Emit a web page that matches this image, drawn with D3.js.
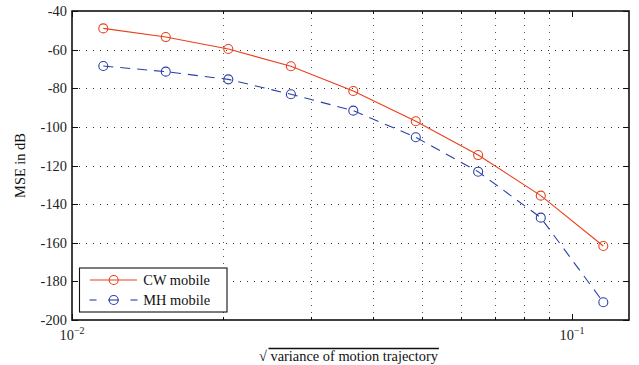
<!DOCTYPE html>
<html>
<head>
<meta charset="utf-8">
<script src="https://cdn.jsdelivr.net/npm/d3@7"></script>
<style>
  html, body { margin: 0; padding: 0; background: #fff; }
</style>
</head>
<body>
<svg id="chart" width="639" height="365"></svg>
<script>
// ---- data ----
const xValues = [0.01155, 0.0154, 0.02054, 0.0274, 0.03652, 0.0487, 0.0649, 0.0866, 0.1155];
const cwMobile = [-49, -53.5, -59.7, -68.6, -81.4, -97.1, -114.6, -135.6, -161.7];
const mhMobile = [-68.5, -71.4, -75.4, -83.1, -91.6, -105.4, -123.2, -147, -190.8];
const yTicks = [-200, -180, -160, -140, -120, -100, -80, -60, -40];
const xMajorTicks = [0.01, 0.1];
const xMajorExp = ["−2", "−1"];
const xMinorTicks = [0.02, 0.03, 0.04, 0.05, 0.06, 0.07, 0.08, 0.09];
const seriesNames = ["CW mobile", "MH mobile"];
const seriesColors = ["#e8401c", "#2a3fa8"];
const xLabel = "variance of motion trajectory";
const yLabel = "MSE in dB";

// ---- layout ----
const L = 72, R = 629, T = 11, B = 320;
const fs = 14.4;
const FONT = "'Liberation Serif', 'Times New Roman', Times, 'DejaVu Serif', serif";
const svg = d3.select("#chart").attr("font-family", FONT);
const x = d3.scaleLog().domain([0.01, 0.13]).range([L, R]);
const y = d3.scaleLinear().domain([-200, -40]).range([B, T]);

// grid
const grid = svg.append("g").attr("stroke", "#333").attr("stroke-width", 1)
  .attr("stroke-dasharray", "1,6");
grid.selectAll("line.gx").data(xMinorTicks).join("line")
  .attr("x1", d => Math.round(x(d)) + 0.5).attr("x2", d => Math.round(x(d)) + 0.5)
  .attr("y1", T).attr("y2", B).attr("stroke", "#555");
grid.selectAll("line.gy").data(yTicks.slice(1, -1)).join("line")
  .attr("x1", L).attr("x2", R)
  .attr("y1", d => Math.round(y(d)) + 0.5).attr("y2", d => Math.round(y(d)) + 0.5);

// ticks (inward, both sides)
const ticks = svg.append("g").attr("stroke", "#111").attr("stroke-width", 1);
xMajorTicks.forEach(t => {
  const xp = Math.round(x(t)) + 0.5;
  ticks.append("line").attr("x1", xp).attr("x2", xp).attr("y1", B).attr("y2", B - 6);
  ticks.append("line").attr("x1", xp).attr("x2", xp).attr("y1", T).attr("y2", T + 6);
});
xMinorTicks.forEach(t => {
  const xp = Math.round(x(t)) + 0.5;
  ticks.append("line").attr("x1", xp).attr("x2", xp).attr("y1", B).attr("y2", B - 3);
  ticks.append("line").attr("x1", xp).attr("x2", xp).attr("y1", T).attr("y2", T + 3);
});
yTicks.forEach(t => {
  const yp = Math.round(y(t)) + 0.5;
  ticks.append("line").attr("x1", L).attr("x2", L + 6).attr("y1", yp).attr("y2", yp);
  ticks.append("line").attr("x1", R).attr("x2", R - 6).attr("y1", yp).attr("y2", yp);
});

// box
svg.append("rect").attr("x", L).attr("y", T).attr("width", R - L).attr("height", B - T)
  .attr("fill", "none").attr("stroke", "#111").attr("stroke-width", 1.6);

// y tick labels
svg.append("g").selectAll("text").data(yTicks).join("text")
  .attr("x", L - 5).attr("y", d => y(d) + 5)
  .attr("text-anchor", "end").attr("font-size", fs).attr("fill", "#222")
  .attr("font-family", FONT)
  .text(d => String(d));

// x tick labels
xMajorTicks.forEach((t, i) => {
  const tx = svg.append("text").attr("x", x(t)).attr("y", 340)
    .attr("text-anchor", "middle").attr("font-size", fs).attr("fill", "#222")
    .attr("font-family", FONT);
  tx.append("tspan").text("10");
  tx.append("tspan").attr("dy", -6).attr("font-size", 10).text(xMajorExp[i]);
});

// axis labels
svg.append("text").attr("transform", `translate(25,${(T + B) / 2}) rotate(-90)`)
  .attr("text-anchor", "middle").attr("font-size", fs).attr("fill", "#111")
  .attr("font-family", FONT).text(yLabel);
svg.append("text").attr("x", 259).attr("y", 361).attr("font-size", fs).attr("fill", "#111")
  .attr("font-family", FONT).text("√");
const xl = svg.append("text").attr("x", 270.5).attr("y", 361).attr("font-size", fs)
  .attr("fill", "#111").attr("font-family", FONT).text(xLabel);
const xlw = xl.node().getComputedTextLength();
svg.append("line").attr("x1", 268.5).attr("x2", 270.5 + xlw + 1).attr("y1", 348.5).attr("y2", 348.5)
  .attr("stroke", "#111").attr("stroke-width", 1.3);

// series
const line = d3.line().x((d, i) => x(xValues[i])).y(d => y(d));
const allSeries = [cwMobile, mhMobile];
allSeries.forEach((s, k) => {
  const g = svg.append("g");
  g.append("path").datum(s).attr("d", line).attr("fill", "none")
    .attr("stroke", seriesColors[k]).attr("stroke-width", 1.1)
    .attr("stroke-dasharray", k === 1 ? "10,7" : null);
  g.selectAll("circle").data(s).join("circle")
    .attr("cx", (d, i) => x(xValues[i])).attr("cy", d => y(d)).attr("r", 4.5)
    .attr("fill", "none").attr("stroke", seriesColors[k]).attr("stroke-width", 1.1);
});

// legend
const lg = svg.append("g");
lg.append("rect").attr("x", 79.5).attr("y", 268).attr("width", 147.5).attr("height", 44)
  .attr("fill", "#fff").attr("stroke", "#111").attr("stroke-width", 1.1);
seriesNames.forEach((name, k) => {
  const ly = 280 + k * 20;
  if (k === 0) {
    lg.append("line").attr("x1", 90).attr("x2", 137).attr("y1", ly).attr("y2", ly)
      .attr("stroke", seriesColors[k]).attr("stroke-width", 1.1);
  } else {
    [[89.5, 96.5], [108, 119], [130.5, 137.5]].forEach(seg => {
      lg.append("line").attr("x1", seg[0]).attr("x2", seg[1]).attr("y1", ly).attr("y2", ly)
        .attr("stroke", seriesColors[k]).attr("stroke-width", 1.1);
    });
  }
  lg.append("circle").attr("cx", 113.7).attr("cy", ly).attr("r", 4.5)
    .attr("fill", "none").attr("stroke", seriesColors[k]).attr("stroke-width", 1.1);
  lg.append("text").attr("x", 143.3).attr("y", ly + 5).attr("font-size", fs)
    .attr("fill", "#111").attr("font-family", FONT).text(name);
});
</script>
</body>
</html>
